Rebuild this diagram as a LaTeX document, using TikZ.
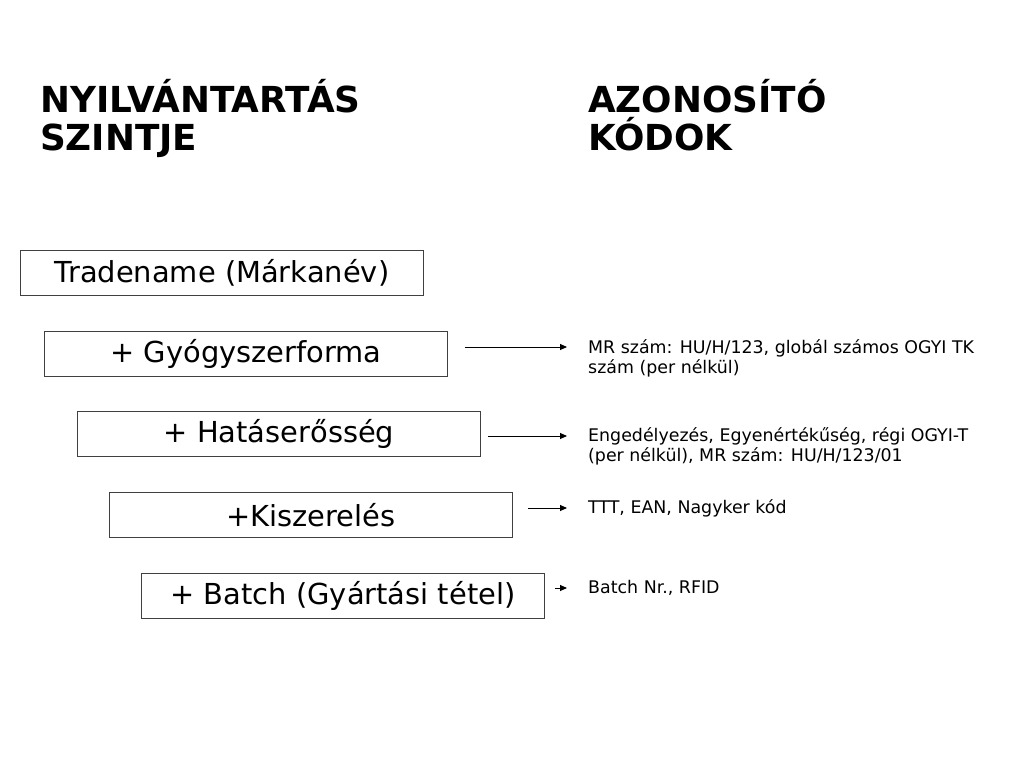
\documentclass[tikz,border=0pt]{standalone}
\usepackage{fontspec}
\setmainfont{DejaVu Sans}
\usetikzlibrary{arrows.meta}
\definecolor{boxline}{HTML}{404040}
\tikzset{
  lvl/.style={draw=boxline, line width=1pt, minimum width=403pt, minimum height=45pt, inner sep=0pt, font=\fontsize{28.9}{32}\selectfont, anchor=north west},
  head/.style={anchor=base west, align=left, font=\bfseries\fontsize{35.8}{38}\selectfont, inner sep=0pt},
  code/.style={anchor=base west, align=left, font=\fontsize{17.4}{20}\selectfont, inner sep=0pt},
  conn/.style={line width=0.9pt, -{Triangle[length=7pt,width=6pt]}}
}
\begin{document}
\begin{tikzpicture}[x=1pt,y=-1pt]
\useasboundingbox (0,0) rectangle (1024,768);
\node[head] (h1) at (40,150) {NYILVÁNTARTÁS\\SZINTJE};
\node[head] (h2) at (588,150) {AZONOSÍTÓ\\KÓDOK};
\node[lvl] (b1) at (20,250) {Tradename (Márkanév)};
\node[lvl] (b2) at (44,331) {+ Gyógyszerforma};
\node[lvl] (b3) at (77,411) {+ Hatáserősség};
\node[lvl] (b4) at (109,492) {+Kiszerelés};
\node[lvl] (b5) at (141,573) {+ Batch (Gyártási tétel)};
\node[code] (c2) at (588,373) {MR szám: HU/H/123, globál számos OGYI TK\\szám (per nélkül)};
\node[code] (c3) at (588,461) {Engedélyezés, Egyenértékűség, régi OGYI-T\\(per nélkül), MR szám: HU/H/123/01};
\node[code] (c4) at (588,513) {TTT, EAN, Nagyker kód};
\node[code] (c5) at (588,593) {Batch Nr., RFID};
\coordinate (a2s) at (465,347); \coordinate (a2e) at (567,347);
\coordinate (a3s) at (488,436); \coordinate (a3e) at (567,436);
\coordinate (a4s) at (528,508); \coordinate (a4e) at (567,508);
\coordinate (a5s) at (555,588); \coordinate (a5e) at (567,588);
\draw[conn] (a2s) -- (a2e);
\draw[conn] (a3s) -- (a3e);
\draw[conn] (a4s) -- (a4e);
\draw[conn] (a5s) -- (a5e);
\end{tikzpicture}
\end{document}
